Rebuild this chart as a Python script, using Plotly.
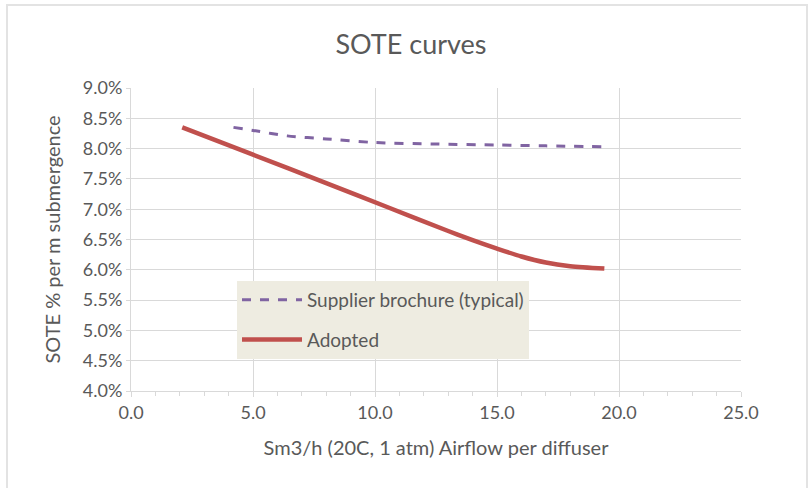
import plotly.graph_objects as go

# Data
supplier_x = [4.2, 5.0, 6.4, 8.0, 10.0, 12.5, 15.0, 17.0, 19.4]
supplier_y = [0.0835, 0.0830, 0.0821, 0.0816, 0.0810, 0.08075, 0.0806, 0.08045, 0.0803]

adopted_x = [2.1, 5.0, 8.0, 10.6, 13.0, 14.0, 15.0, 16.0, 17.0, 18.0, 19.4]
adopted_y = [0.0835, 0.0790, 0.0743, 0.0702, 0.0664, 0.0649, 0.0635, 0.0622, 0.0612, 0.0606, 0.0602]

x_ticks = [0, 5, 10, 15, 20, 25]
y_ticks = [0.04, 0.045, 0.05, 0.055, 0.06, 0.065, 0.07, 0.075, 0.08, 0.085, 0.09]

FONT = "Lato"
GREY = "#595959"
GRID = "#D9D9D9"

fig = go.Figure()
fig.add_trace(go.Scatter(
    x=supplier_x, y=supplier_y, mode="lines", name="Supplier brochure (typical)",
    line=dict(color="#8064A2", width=3, dash="dash", shape="spline", smoothing=0.8), legendgroup="a"))
fig.add_trace(go.Scatter(
    x=adopted_x, y=adopted_y, mode="lines", name="Adopted",
    line=dict(color="#C0504D", width=4.5, shape="spline", smoothing=0.8), legendgroup="b"))

fig.update_layout(
    width=808, height=488,
    margin=dict(l=131, r=67, t=88, b=97),
    paper_bgcolor="white", plot_bgcolor="white",
    title=dict(text="SOTE curves", x=411 / 808, xanchor="center", y=1 - 45 / 488, yanchor="middle",
               font=dict(family=FONT, size=27, color=GREY)),
    font=dict(family=FONT, color=GREY),
    xaxis=dict(range=[0, 25], tickvals=x_ticks, tickformat=".1f",
               showgrid=True, gridcolor=GRID, gridwidth=1,
               showline=True, linecolor=GRID, linewidth=1,
               ticks="outside", ticklen=5, tickcolor=GRID,
               minor=dict(dtick=1, ticks="outside", ticklen=4, tickcolor=GRID, showgrid=False),
               tickfont=dict(family=FONT, size=18, color=GREY),
               title=dict(text="Sm3/h (20C, 1 atm) Airflow per diffuser",
                          font=dict(family=FONT, size=20, color=GREY), standoff=19),
               zeroline=False),
    yaxis=dict(range=[0.04, 0.09], tickvals=y_ticks, tickformat=".1%",
               showgrid=True, gridcolor=GRID, gridwidth=1,
               showline=True, linecolor=GRID, linewidth=1,
               ticks="outside", ticklen=4, tickcolor=GRID,
               tickfont=dict(family=FONT, size=18, color=GREY),
               title=dict(text="SOTE % per m submergence",
                          font=dict(family=FONT, size=20, color=GREY), standoff=16),
               zeroline=False),
    legend=dict(x=(237 - 131) / 610, y=(391 - 281) / 303, xanchor="left", yanchor="top",
                bgcolor="#EEECE1", borderwidth=0,
                font=dict(family=FONT, size=19, color=GREY),
                tracegroupgap=12, itemwidth=60, traceorder="grouped"),
    showlegend=True,
)

# Outer chart-area border (light grey)
fig.add_shape(type="rect", xref="paper", yref="paper",
              x0=(7 - 131) / 610, x1=(807 - 131) / 610,
              y0=(391 - 495) / 303, y1=(391 - 5) / 303,
              line=dict(color="#E3E3E3", width=2), fillcolor="rgba(0,0,0,0)", layer="below")

fig.write_html("out.html")
